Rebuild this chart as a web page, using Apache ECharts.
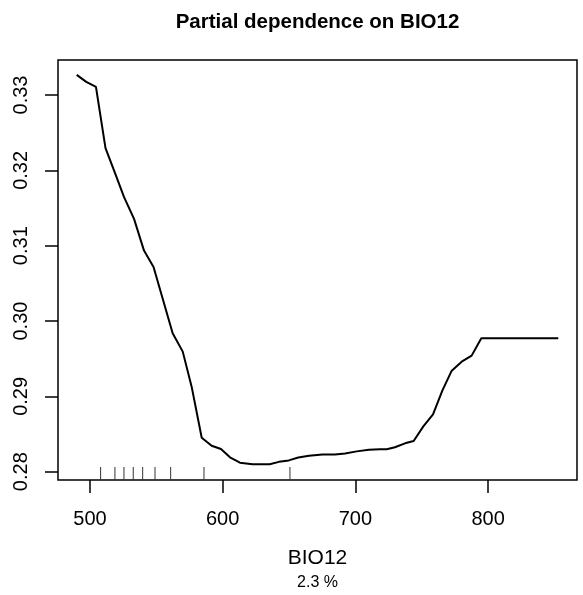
<!DOCTYPE html>
<html>
<head>
<meta charset="utf-8">
<script src="https://cdn.jsdelivr.net/npm/echarts@6/dist/echarts.min.js"></script>
<style>
html,body{margin:0;padding:0;background:#fff;}
#chart{width:583px;height:595px;}
</style>
</head>
<body>
<div id="chart"></div>
<script>
// ---- data ----
const titleText = "Partial dependence on BIO12";
const xAxisName = "BIO12";
const subText = "2.3 %";
const bio12 = [490.0, 497.2, 504.5, 511.7, 518.1, 525.6, 533.2, 540.7, 547.9, 562.3,
  569.9, 576.6, 584.2, 591.7, 598.7, 605.5, 613.0, 622.5, 635.4, 642.4,
  649.8, 657.0, 665.0, 675.2, 684.6, 692.2, 701.0, 710.2, 718.5, 723.6,
  729.8, 737.4, 743.9, 751.2, 758.5, 765.6, 772.6, 780.1, 787.6, 794.9, 852.9];
const partialDep = [0.33268, 0.33175, 0.33109, 0.32295, 0.32000, 0.31648, 0.31356, 0.30935, 0.30718, 0.29838,
  0.29594, 0.29129, 0.28450, 0.28344, 0.28301, 0.28191, 0.28120, 0.28098, 0.28098, 0.28131,
  0.28150, 0.28189, 0.28212, 0.28228, 0.28228, 0.28242, 0.28270, 0.28293, 0.28299, 0.28299,
  0.28324, 0.28377, 0.28408, 0.28602, 0.28760, 0.29080, 0.29341, 0.29461, 0.29541, 0.29773, 0.29773];
const rugValues = [508.0, 518.8, 525.6, 532.6, 539.7, 549.0, 560.8, 585.9, 650.7];
const xTicks = [500, 600, 700, 800];
const yTicks = [0.28, 0.29, 0.30, 0.31, 0.32, 0.33];
const X_MIN = 475.9, X_MAX = 867.0;
const Y_MIN = 0.27890, Y_MAX = 0.33465;

const FONT = "'Liberation Sans', Arial, Helvetica, sans-serif";
const chart = echarts.init(document.getElementById('chart'), null, {renderer: 'canvas'});

const option = {
  animation: false,
  backgroundColor: '#ffffff',
  grid: {
    left: 58, right: 6, top: 60, bottom: 115,
    show: true, borderColor: '#000', borderWidth: 1.5, backgroundColor: 'transparent'
  },
  xAxis: {
    type: 'value', min: X_MIN, max: X_MAX,
    splitLine: {show: false},
    axisLine: {show: false},
    axisTick: {show: true, customValues: xTicks, length: 13, inside: false, lineStyle: {color: '#000', width: 1.5}},
    axisLabel: {show: true, customValues: xTicks, margin: 29, fontSize: 20, color: '#000', fontFamily: FONT}
  },
  yAxis: {
    type: 'value', min: Y_MIN, max: Y_MAX,
    splitLine: {show: false},
    axisLine: {show: false},
    axisTick: {show: true, customValues: yTicks, length: 13, inside: false, lineStyle: {color: '#000', width: 1.5}},
    axisLabel: {show: true, customValues: yTicks, margin: 27, rotate: 90, fontSize: 20, color: '#000', fontFamily: FONT,
      formatter: function (v) { return Number(v).toFixed(2); }}
  },
  graphic: [
    {type: 'text', x: 317.5, y: 12, style: {text: titleText, font: 'bold 20.5px ' + FONT, fill: '#000', align: 'center', textAlign: 'center', verticalAlign: 'top', textVerticalAlign: 'top'}},
    {type: 'text', x: 317.5, y: 548, style: {text: xAxisName, font: '21px ' + FONT, fill: '#000', align: 'center', textAlign: 'center', verticalAlign: 'top', textVerticalAlign: 'top'}},
    {type: 'text', x: 317.5, y: 575, style: {text: subText, font: '16px ' + FONT, fill: '#000', align: 'center', textAlign: 'center', verticalAlign: 'top', textVerticalAlign: 'top'}}
  ],
  series: [
    {
      type: 'line',
      data: bio12.map(function (x, i) { return [x, partialDep[i]]; }),
      symbol: 'none',
      lineStyle: {color: '#000', width: 2},
      clip: false
    },
    {
      type: 'custom',
      data: rugValues.map(function (v) { return [v, Y_MIN]; }),
      clip: false,
      renderItem: function (params, api) {
        const p = api.coord([api.value(0), api.value(1)]);
        return {
          type: 'line',
          shape: {x1: p[0], y1: p[1], x2: p[0], y2: p[1] - 13},
          style: {stroke: '#333', lineWidth: 1}
        };
      }
    }
  ]
};
chart.setOption(option);
</script>
</body>
</html>
